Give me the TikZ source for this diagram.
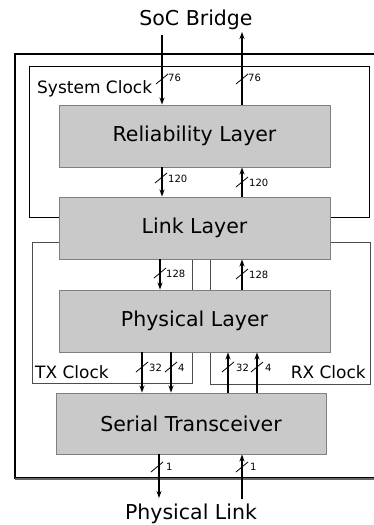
\documentclass[tikz,border=0pt]{standalone}
\usepackage{fontspec}
\setmainfont{DejaVu Sans}
\usetikzlibrary{arrows.meta}
\tikzset{
  layer/.style={draw=black!50, fill=black!21, line width=0.9pt, minimum width=271pt, minimum height=62pt, inner sep=0pt, font=\fontsize{20.5}{24}\selectfont},
  clockbox/.style={draw=black, line width=0.9pt},
  dombox/.style={draw=black!70, line width=0.9pt},
  sig/.style={line width=1.8pt, -{Stealth[length=7pt,width=5pt]}},
  tick/.style={line width=0.8pt},
  lbl/.style={font=\fontsize{10}{12}\selectfont, inner sep=0pt, anchor=west},
  clk/.style={font=\fontsize{17}{20}\selectfont, inner sep=0pt},
  ext/.style={font=\fontsize{20.5}{24}\selectfont, inner sep=0pt, anchor=base}
}
\begin{document}
\begin{tikzpicture}[x=1pt,y=-1pt]
\useasboundingbox (0,0) rectangle (373,525);
% outer box
\draw[line width=1.3pt] (15,54) rectangle (385,478);
\draw[line width=2pt, black!60] (15,478.5) -- (385,478.5);
% clock domains
\draw[clockbox] (29,66) rectangle (369,217.5);
\draw[dombox] (32,242) rectangle (192,383);
\draw[dombox] (210,242.5) rectangle (370,384);
\node[clk, anchor=base west] (sysclk) at (37,93) {System Clock};
\node[clk, anchor=base west] (txclk) at (35,378) {TX Clock};
\node[clk, anchor=base east] (rxclk) at (366,378) {RX Clock};
% layers
\node[layer] (rel) at (194.5,136) {Reliability Layer};
\node[layer] (link) at (194.5,228) {Link Layer};
\node[layer] (phy) at (194.5,321) {Physical Layer};
\node[layer, minimum width=270pt, minimum height=61pt] (ser) at (191,423.5) {Serial Transceiver};
% external labels
\node[ext] (soc) at (196,25) {SoC Bridge};
\node[ext] (plink) at (191,519.5) {Physical Link};
% coordinates
\coordinate (socin) at (162,35);
\coordinate (socout) at (242,32);
\coordinate (xa) at (162,0);
\coordinate (xb) at (242,0);
\coordinate (xc) at (160,0);
\coordinate (txa) at (142,0);
\coordinate (txb) at (171,0);
\coordinate (rxa) at (228,0);
\coordinate (rxb) at (257,0);
\coordinate (plout) at (159,498);
\coordinate (plin) at (242,499);
% connectors
\draw[sig] (socin) -- (rel.north -| socin);
\draw[sig] (rel.north -| socout) -- (socout);
\draw[sig] (rel.south -| xa) -- (link.north -| xa);
\draw[sig] (link.north -| xb) -- (rel.south -| xb);
\draw[sig] (link.south -| xc) -- (phy.north -| xc);
\draw[sig] (phy.north -| xb) -- (link.south -| xb);
\draw[sig] (phy.south -| txa) -- (ser.north -| txa);
\draw[sig] (phy.south -| txb) -- (ser.north -| txb);
\draw[sig] (ser.north -| rxa) -- (phy.south -| rxa);
\draw[sig] (ser.north -| rxb) -- (phy.south -| rxb);
\draw[sig] (ser.south -| plout) -- (plout);
\draw[sig] (plin) -- (ser.south -| plin);
% bus width ticks
\draw[tick] (162,79) +(-6,5) -- +(6,-5);
\node[lbl] (w1) at (168,78) {76};
\draw[tick] (242,79) +(-6,5) -- +(6,-5);
\node[lbl] (w2) at (248,78) {76};
\draw[tick] (161,178) +(-6,5) -- +(6,-5);
\node[lbl] (w3) at (168,179) {120};
\draw[tick] (242,182) +(-6,5) -- +(6,-5);
\node[lbl] (w4) at (249,183) {120};
\draw[tick] (160,273) +(-6,5) -- +(6,-5);
\node[lbl] (w5) at (166,274) {128};
\draw[tick] (242,274) +(-6,5) -- +(6,-5);
\node[lbl] (w6) at (249,275) {128};
\draw[tick] (142,367) +(-6,5) -- +(6,-5);
\node[lbl] (w7) at (149,368) {32};
\draw[tick] (171,367) +(-6,5) -- +(6,-5);
\node[lbl] (w8) at (178,368) {4};
\draw[tick] (228,367) +(-6,5) -- +(6,-5);
\node[lbl] (w9) at (236,368) {32};
\draw[tick] (257,367) +(-6,5) -- +(6,-5);
\node[lbl] (w10) at (265,368) {4};
\draw[tick] (157,467) +(-6,5) -- +(6,-5);
\node[lbl] (w11) at (166,467) {1};
\draw[tick] (242,467) +(-6,5) -- +(6,-5);
\node[lbl] (w12) at (250,467) {1};
\end{tikzpicture}
\end{document}
